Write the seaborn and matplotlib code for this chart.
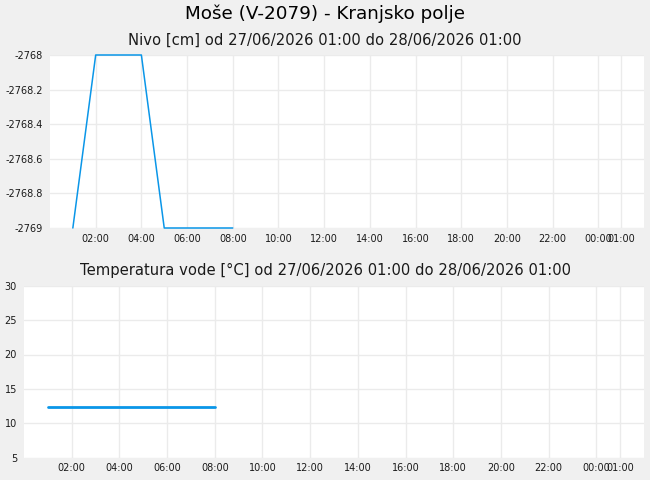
import matplotlib
matplotlib.use("Agg")
import matplotlib.pyplot as plt
import matplotlib.dates as mdates
import seaborn as sns
import pandas as pd

# ---- data ----
times = ["2026-06-27 01:00", "2026-06-27 02:00", "2026-06-27 03:00", "2026-06-27 04:00",
         "2026-06-27 05:00", "2026-06-27 06:00", "2026-06-27 07:00", "2026-06-27 08:00"]
nivo = [-2769, -2768, -2768, -2768, -2769, -2769, -2769, -2769]
temp = [12.4, 12.4, 12.4, 12.4, 12.4, 12.4, 12.4, 12.4]

title = "Moše (V-2079) - Kranjsko polje"
sub1 = "Nivo [cm] od 27/06/2026 01:00 do 28/06/2026 01:00"
sub2 = "Temperatura vode [°C] od 27/06/2026 01:00 do 28/06/2026 01:00"

x_start = "2026-06-27 00:00"
x_end = "2026-06-28 02:00"
xtick_times = ["2026-06-27 02:00", "2026-06-27 04:00", "2026-06-27 06:00", "2026-06-27 08:00",
               "2026-06-27 10:00", "2026-06-27 12:00", "2026-06-27 14:00", "2026-06-27 16:00",
               "2026-06-27 18:00", "2026-06-27 20:00", "2026-06-27 22:00", "2026-06-28 00:00",
               "2026-06-28 01:00"]
nivo_ticks = [-2769, -2768.8, -2768.6, -2768.4, -2768.2, -2768]
nivo_labels = ["-2769", "-2768.8", "-2768.6", "-2768.4", "-2768.2", "-2768"]
temp_ticks = [5, 10, 15, 20, 25, 30]

df = pd.DataFrame({"t": pd.to_datetime(times), "nivo": nivo, "temp": temp})

sns.set_theme(style="whitegrid")
plt.rcParams["font.family"] = ["DejaVu Sans"]
plt.rcParams["axes.unicode_minus"] = False

BG = "#f0f0f0"
GRID = "#ebebeb"
LINE = "#0a96e8"
TXT = "#1a1a1a"

fig = plt.figure(figsize=(6.5, 4.8), dpi=100, facecolor=BG)
ax1 = fig.add_axes([50/650, 1-228/480, 594/650, 173/480])
ax2 = fig.add_axes([24/650, 1-457.7/480, 620/650, 172/480])

sns.lineplot(data=df, x="t", y="nivo", ax=ax1, color=LINE, linewidth=1.1, clip_on=False)
ax1.set_ylim(-2769, -2768)
ax1.set_yticks(nivo_ticks)
ax1.set_yticklabels(nivo_labels)

sns.lineplot(data=df, x="t", y="temp", ax=ax2, color=LINE, linewidth=2.0, clip_on=False)
ax2.set_ylim(5, 30)
ax2.set_yticks(temp_ticks)
ax2.set_yticklabels([str(v) for v in temp_ticks])

xt = pd.to_datetime(xtick_times)
for ax in (ax1, ax2):
    ax.set_facecolor("white")
    for s in ax.spines.values():
        s.set_visible(False)
    ax.grid(True, color=GRID, linewidth=1.0)
    ax.set_xlabel("")
    ax.set_ylabel("")
    ax.set_xticks(xt)
    ax.xaxis.set_major_formatter(mdates.DateFormatter("%H:%M"))
    ax.set_xlim(pd.Timestamp(x_start), pd.Timestamp(x_end))
    ax.tick_params(axis="both", length=0, labelsize=7, colors=TXT)
    ax.tick_params(axis="x", pad=4)
    ax.tick_params(axis="y", pad=5)

fig.text(0.5, 1-19.3/480, title, ha="center", va="baseline", fontsize=13.2, color="black")
fig.text(0.5, 1-45/480, sub1, ha="center", va="baseline", fontsize=10.6, color=TXT)
fig.text(0.5, 1-275/480, sub2, ha="center", va="baseline", fontsize=10.6, color=TXT)

fig.savefig("out.png", dpi=100, facecolor=BG)
